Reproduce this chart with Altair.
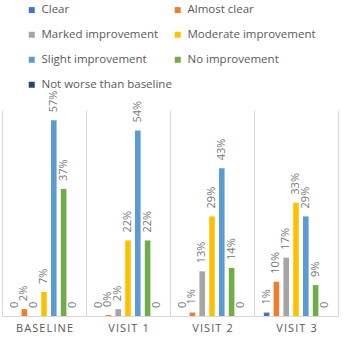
import altair as alt
import pandas as pd

visits = ["BASELINE", "VISIT 1", "VISIT 2", "VISIT 3"]
series = ["Clear", "Almost clear", "Marked improvement", "Moderate improvement",
          "Slight improvement", "No improvement", "Not worse than baseline"]
colors = ["#4472C4", "#ED7D31", "#A5A5A5", "#FFC000", "#5B9BD5", "#70AD47", "#264478"]

baseline_values = [0, 0.02, 0, 0.07, 0.57, 0.37, 0]
visit1_values = [0, 0.003, 0.02, 0.22, 0.54, 0.22, 0]
visit2_values = [0, 0.01, 0.13, 0.29, 0.43, 0.14, 0]
visit3_values = [0.01, 0.10, 0.17, 0.33, 0.29, 0.09, 0]

baseline_labels = ["0", "2%", "0", "7%", "57%", "37%", "0"]
visit1_labels = ["0", "0%", "2%", "22%", "54%", "22%", "0"]
visit2_labels = ["0", "1%", "13%", "29%", "43%", "14%", "0"]
visit3_labels = ["1%", "10%", "17%", "33%", "29%", "9%", "0"]

all_values = [baseline_values, visit1_values, visit2_values, visit3_values]
all_labels = [baseline_labels, visit1_labels, visit2_labels, visit3_labels]

rows = []
for v, vals, labs in zip(visits, all_values, all_labels):
    for s, val, lab in zip(series, vals, labs):
        rows.append({"visit": v, "series": s, "value": val, "label": lab})
df = pd.DataFrame(rows)

FONT = "Open Sans"
GRAY = "#595959"

base = alt.Chart(df).encode(
    x=alt.X("visit:N", sort=visits,
            scale=alt.Scale(paddingInner=0, paddingOuter=0),
            axis=alt.Axis(title=None, labelAngle=0, tickBand="extent", grid=True,
                          gridColor="#d9d9d9", gridWidth=1, domainColor="#d9d9d9",
                          ticks=False, labelFont=FONT, labelFontSize=11,
                          labelColor=GRAY, labelPadding=6,
                          labelExpr="join(split(datum.label, ''), '\u200a')")),
    xOffset=alt.XOffset("series:N", sort=series,
                        scale=alt.Scale(paddingInner=0.43, paddingOuter=1)),
    y=alt.Y("value:Q", scale=alt.Scale(domain=[0, 0.6]), axis=None),
)

bars = base.mark_bar().encode(
    color=alt.Color("series:N", sort=series,
                    scale=alt.Scale(domain=series, range=colors),
                    legend=alt.Legend(orient="none", direction="horizontal",
                                      legendX=24, legendY=-106,
                                      columns=2, title=None, symbolType="square",
                                      symbolSize=36, symbolStrokeWidth=0,
                                      labelFont=FONT, labelFontSize=11.5,
                                      labelColor=GRAY, rowPadding=12,
                                      columnPadding=-1, labelOffset=4, padding=0,
                                      labelLimit=220))
)

text = base.mark_text(angle=270, align="left", baseline="middle", dx=8,
                      font=FONT, fontSize=11, color="#767676").encode(text="label:N")

chart = (bars + text).properties(
    width=336, height=206,
    padding={"left": 2, "top": 110, "right": 5, "bottom": 21},
    autosize=alt.AutoSizeParams(type="none"),
).configure_view(stroke="transparent")

chart.save("out.html", embed_options={"renderer": "svg", "actions": False})
